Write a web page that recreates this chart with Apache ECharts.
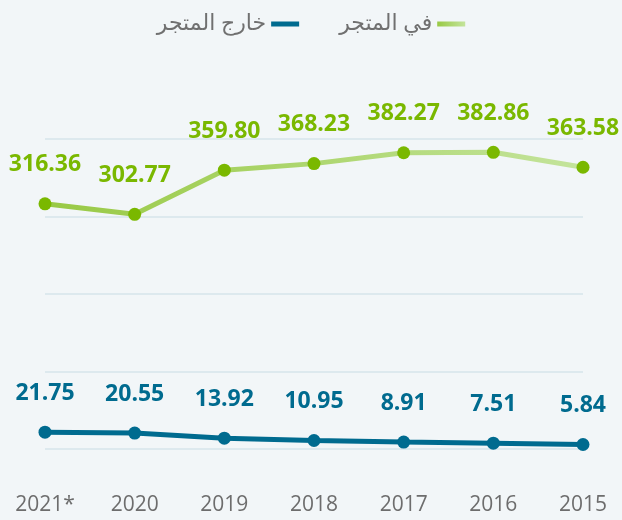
<!DOCTYPE html>
<html>
<head>
<meta charset="utf-8">
<script src="https://cdn.jsdelivr.net/npm/echarts@6/dist/echarts.min.js"></script>
<style>
  html, body { margin: 0; padding: 0; background: #f2f6f8; }
  #chart { width: 622px; height: 520px; }
</style>
</head>
<body>
<div id="chart"></div>
<script>
// 数据
var years = ['2021*', '2020', '2019', '2018', '2017', '2016', '2015'];
var inStore = [316.36, 302.77, 359.80, 368.23, 382.27, 382.86, 363.58];
var outStore = [21.75, 20.55, 13.92, 10.95, 8.91, 7.51, 5.84];
var seriesNames = ['في المتجر', 'خارج المتجر'];

var green = '#7ab800';
var blue = '#006b8f';
var greenLine = new echarts.graphic.LinearGradient(0, 0, 1, 0, [
  { offset: 0, color: '#98c944' },
  { offset: 1, color: '#c4e49c' }
]);

var chart = echarts.init(document.getElementById('chart'));

function fmt(p) {
  return p.value.toFixed(2);
}

chart.setOption({
  backgroundColor: '#f2f6f8',
  textStyle: { fontFamily: '"Open Sans", "DejaVu Sans", sans-serif' },
  legend: {
    top: 8,
    left: 'center',
    align: 'right',
    icon: 'rect',
    itemWidth: 28,
    itemHeight: 5,
    itemGap: 40,
    textStyle: { fontSize: 22, color: '#707070' },
    data: [
      { name: seriesNames[1], itemStyle: { color: blue } },
      { name: seriesNames[0], itemStyle: { color: greenLine } }
    ]
  },
  grid: { left: 45, right: 39, top: 139, bottom: 71 },
  xAxis: {
    type: 'category',
    data: years,
    boundaryGap: false,
    axisLine: { show: false },
    axisTick: { show: false },
    axisLabel: { margin: 46, fontSize: 21, color: '#6d6d6d' }
  },
  yAxis: {
    type: 'value',
    min: 0,
    max: 400,
    interval: 100,
    axisLabel: { show: false },
    axisLine: { show: false },
    axisTick: { show: false },
    splitLine: { lineStyle: { color: '#d6e4eb', width: 1.5 } }
  },
  series: [
    {
      name: seriesNames[0],
      type: 'line',
      data: inStore,
      symbol: 'circle',
      symbolSize: 13,
      itemStyle: { color: green },
      lineStyle: { color: greenLine, width: 5 },
      label: {
        show: true,
        position: 'top',
        distance: 21,
        color: green,
        fontSize: 23,
        fontWeight: 'bold',
        formatter: fmt
      }
    },
    {
      name: seriesNames[1],
      type: 'line',
      data: outStore,
      symbol: 'circle',
      symbolSize: 13,
      itemStyle: { color: blue },
      lineStyle: { color: blue, width: 5 },
      label: {
        show: true,
        position: 'top',
        distance: 21,
        color: blue,
        fontSize: 23,
        fontWeight: 'bold',
        formatter: fmt
      }
    }
  ]
});
</script>
</body>
</html>
